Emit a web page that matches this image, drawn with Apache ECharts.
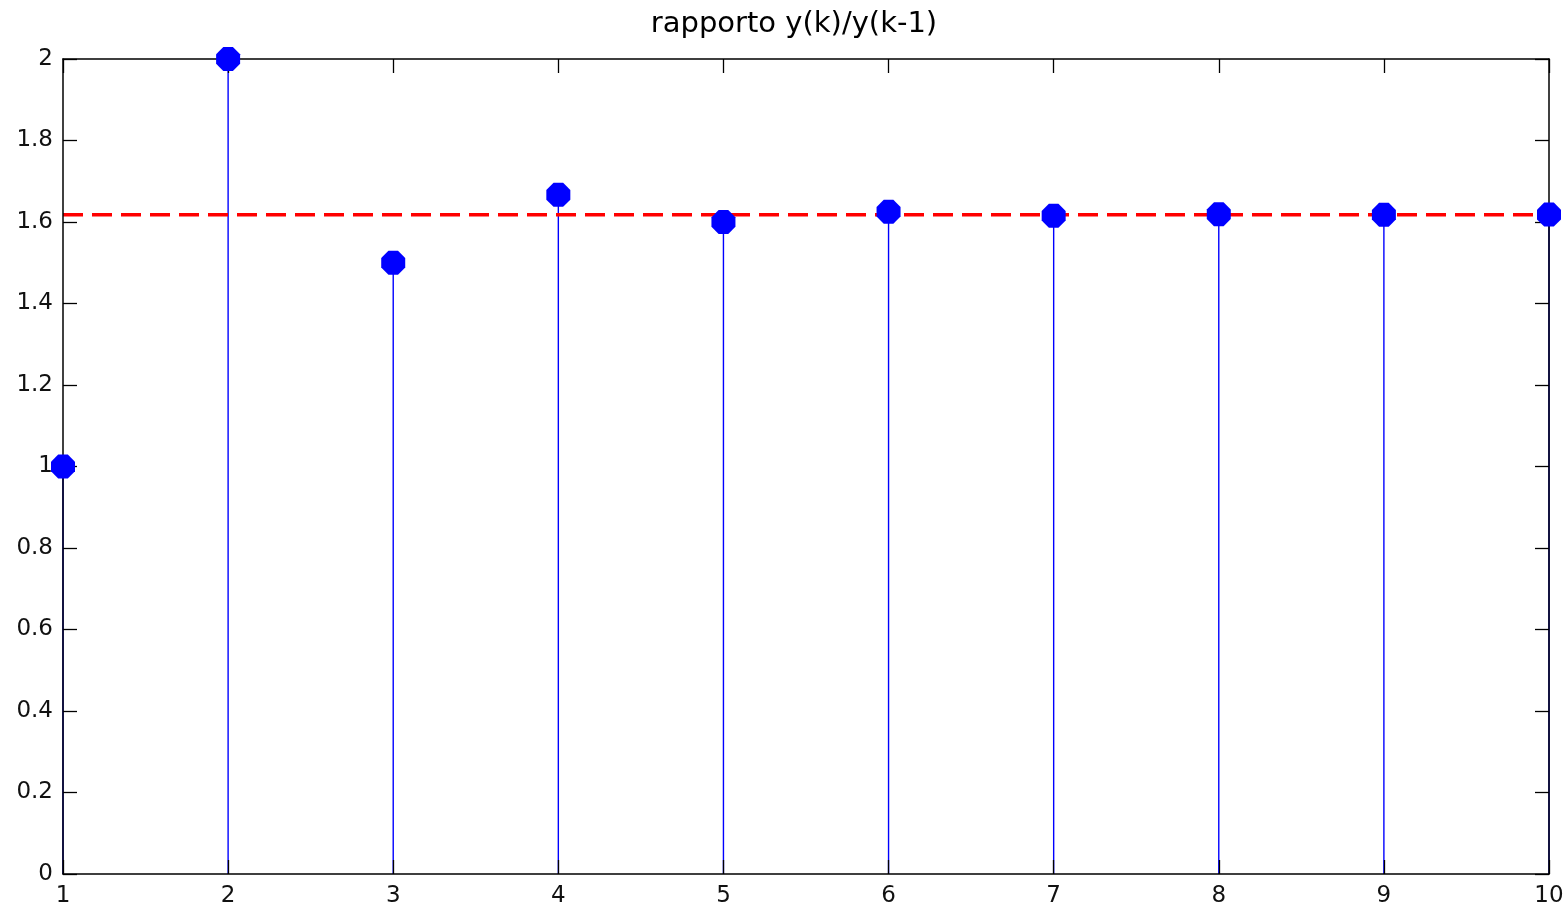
<!DOCTYPE html>
<html>
<head>
<meta charset="utf-8">
<script src="https://cdn.jsdelivr.net/npm/echarts@6/dist/echarts.min.js"></script>
<style>html,body{margin:0;padding:0;background:#fff}#c{width:1568px;height:908px}</style>
</head>
<body>
<div id="c"></div>
<script>
const titleText = 'rapporto y(k)/y(k-1)';
const kValues = [1, 2, 3, 4, 5, 6, 7, 8, 9, 10];
const ratioValues = [1, 2, 1.5, 1.666667, 1.6, 1.625, 1.615385, 1.619048, 1.617647, 1.618182];
const goldenRatio = 1.618034;
const xRange = [1, 10];

const chart = echarts.init(document.getElementById('c'), null, {renderer: 'canvas'});
const font = '"DejaVu Sans", Verdana, sans-serif';
const stemData = kValues.map((k, i) => [k, ratioValues[i]]);
const axisLine = {show: true, onZero: false, lineStyle: {color: '#000', width: 1.5}};
const tick = {show: true, inside: true, length: 14, lineStyle: {color: '#000', width: 1.3}};
const label = {color: '#111', fontSize: 23, fontFamily: font};
const octagon = 'path://M3,0 L7,0 L10,3 L10,7 L7,10 L3,10 L0,7 L0,3 Z';

chart.setOption({
  animation: false,
  backgroundColor: '#fff',
  title: {
    text: titleText, left: 789, top: 5, textAlign: 'center',
    textStyle: {fontSize: 29, fontWeight: 'normal', color: '#000', fontFamily: font}
  },
  grid: {left: 63, right: 19, top: 59, bottom: 32},
  xAxis: [
    {type: 'value', min: 1, max: 10, interval: 1, z: 5, axisLine, axisTick: tick, splitLine: {show: false},
     axisLabel: Object.assign({margin: 11}, label)},
    {type: 'value', position: 'top', min: 1, max: 10, interval: 1, z: 5, axisLine, axisTick: tick, splitLine: {show: false},
     axisLabel: {show: false}}
  ],
  yAxis: [
    {type: 'value', min: 0, max: 2, interval: 0.2, z: 5, axisLine, axisTick: tick, splitLine: {show: false},
     axisLabel: Object.assign({margin: 10}, label)},
    {type: 'value', position: 'right', min: 0, max: 2, interval: 0.2, z: 5, axisLine, axisTick: tick, splitLine: {show: false},
     axisLabel: {show: false}}
  ],
  series: [
    {
      type: 'custom',
      clip: false,
      renderItem: function (params, api) {
        const top = api.coord([api.value(0), api.value(1)]);
        const base = api.coord([api.value(0), 0]);
        return {type: 'line', shape: {x1: top[0], y1: top[1], x2: base[0], y2: base[1]},
                style: {stroke: '#0000ff', lineWidth: 1.4}};
      },
      data: stemData,
      z: 2
    },
    {
      type: 'line',
      data: xRange.map(x => [x, goldenRatio]),
      symbol: 'none',
      lineStyle: {color: '#ff0000', width: 3.5, type: [20, 9]},
      z: 3
    },
    {
      type: 'scatter',
      data: stemData,
      symbol: octagon,
      symbolSize: 24,
      clip: false,
      itemStyle: {color: '#0000ff', opacity: 1},
      z: 6
    }
  ]
});
</script>
</body>
</html>
